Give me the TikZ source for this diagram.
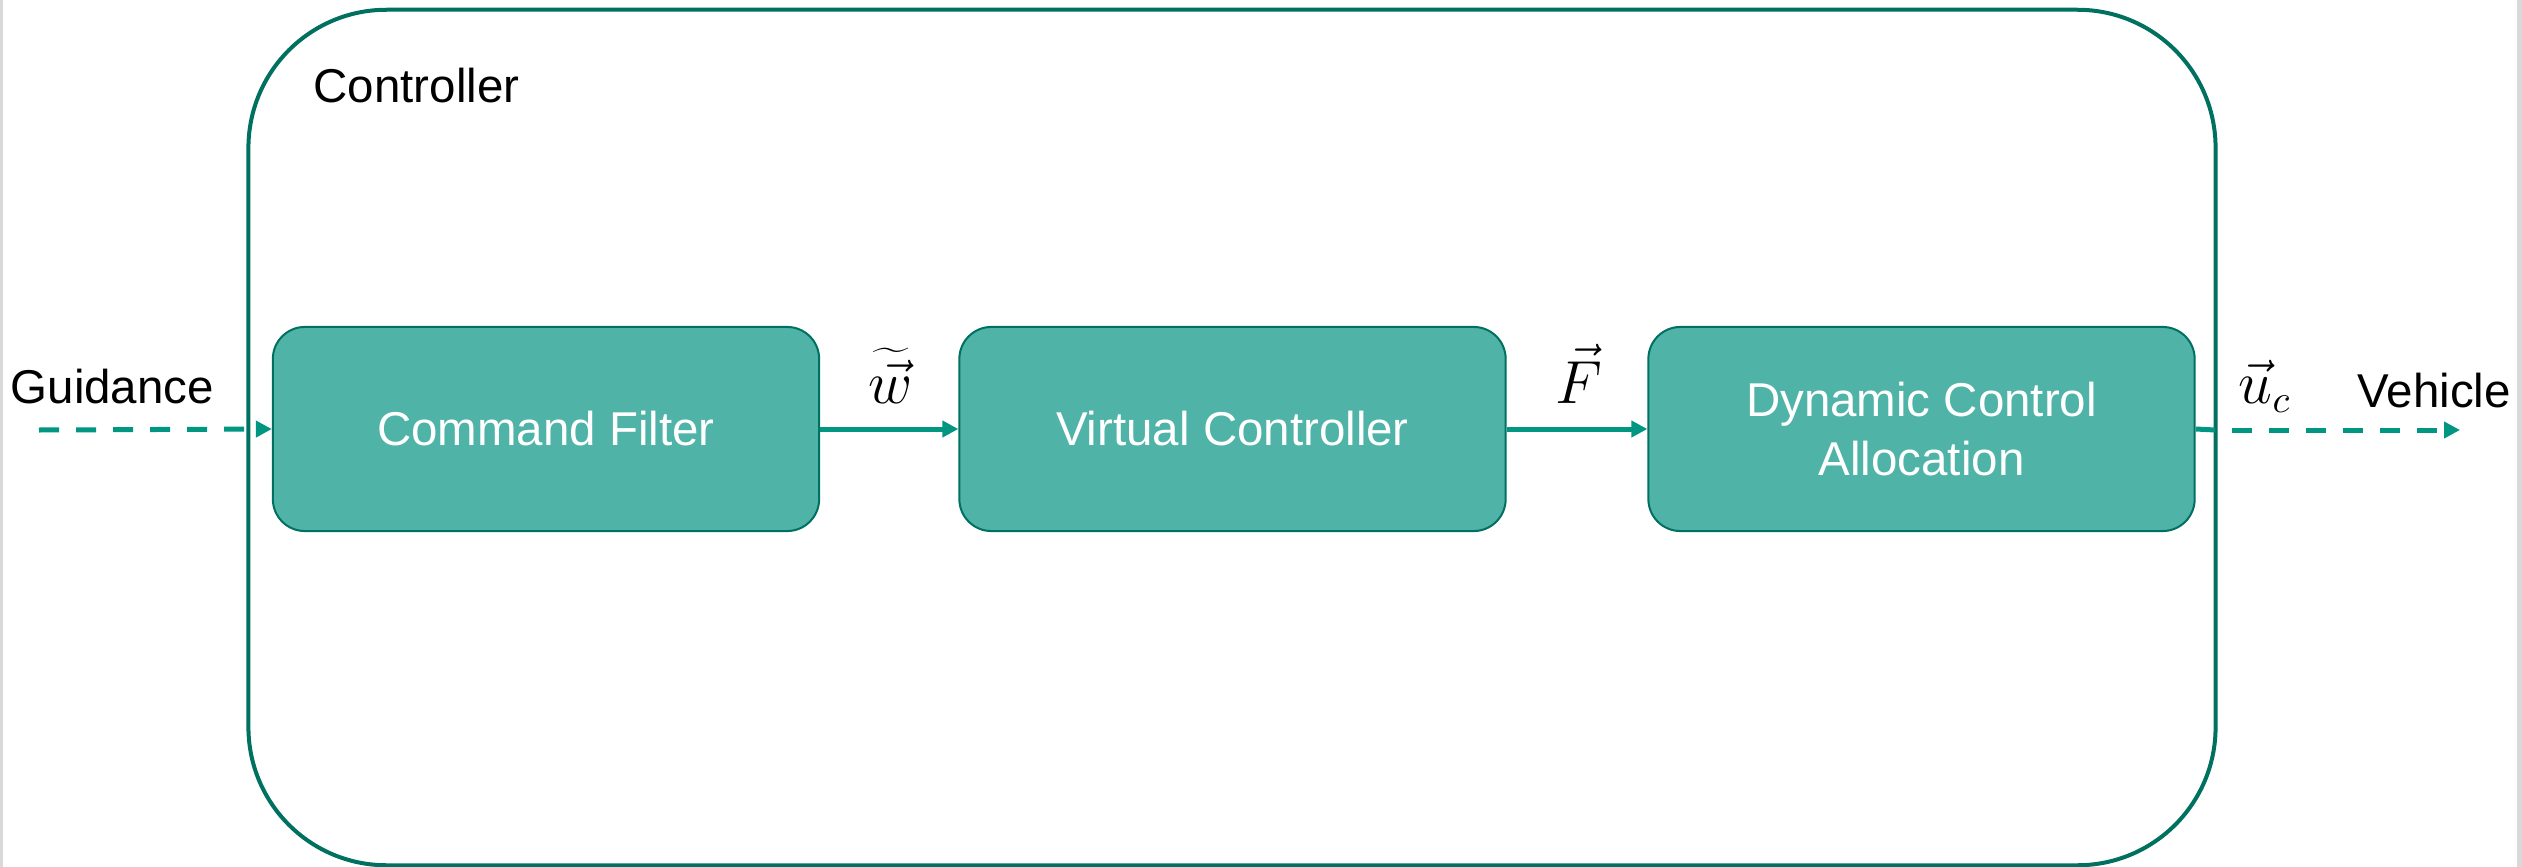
\documentclass[tikz,border=0pt]{standalone}
\usepackage{fontspec}
\setmainfont{Liberation Sans}
\usetikzlibrary{arrows.meta}
\definecolor{boxfill}{RGB}{79,179,167}
\definecolor{boxline}{RGB}{0,112,96}
\definecolor{arrowc}{RGB}{0,150,130}
\definecolor{edgegray}{RGB}{217,217,217}
\tikzset{
  blockbox/.style={draw=boxline, line width=0.02cm, fill=boxfill, rounded corners=0.32cm,
    minimum width=5.46cm, minimum height=2.04cm, text=white, align=center,
    font=\fontsize{13.5}{17}\selectfont, inner sep=0pt},
  outerbox/.style={draw=boxline, line width=0.04cm, rounded corners=1.38cm,
    minimum width=19.66cm, minimum height=8.55cm, inner sep=0pt},
  flow/.style={draw=arrowc, line width=0.05cm, -{Triangle[length=0.16cm,width=0.16cm]}},
  flowdash/.style={flow, dash pattern=on 0.2cm off 0.17cm},
  lbl/.style={font=\fontsize{13.5}{17}\selectfont, inner sep=0pt, text=black},
  mlbl/.style={font=\fontsize{16}{19}\selectfont, inner sep=0pt, text=black}
}
\begin{document}
\begin{tikzpicture}[x=0.01cm, y=-0.01cm]
\useasboundingbox (0,0) rectangle (2522,867);
\fill[edgegray] (0,0) rectangle (3,867);
\fill[edgegray] (2517,0) rectangle (2522,867);
\node[outerbox] (ctrl) at (1232,437.5) {};
\node[lbl, anchor=base west] (ctrltxt) at (313,103) {Controller};
\node[blockbox] (cf) at (546,429) {Command Filter};
\node[blockbox] (vc) at (1232.5,429) {Virtual Controller};
\node[blockbox] (dca) at (1921.5,429) {Dynamic Control\\Allocation};
\coordinate (gin) at (39,430);
\coordinate (oedge) at (2215,430);
\coordinate (ostart) at (2232,430);
\coordinate (oend) at (2460,430);
\node[lbl, anchor=base west] (guid) at (10,403) {Guidance};
\node[lbl, anchor=base west] (veh) at (2357,407) {Vehicle};
\draw[flowdash] (gin) -- (cf.west);
\draw[flow] (cf.east) -- (vc.west);
\draw[flow] (vc.east) -- (dca.west);
\draw[draw=arrowc, line width=0.05cm] (dca.east) -- (oedge);
\draw[flowdash] (ostart) -- (oend);
\node[mlbl, anchor=base] (wl) at (891,403) {$\widetilde{\vec{w}}$};
\node[mlbl, anchor=base] (fl) at (1579,403) {$\vec{F}$};
\node[mlbl, anchor=base west] (ul) at (2238,403) {$\vec{u}_c$};
\end{tikzpicture}
\end{document}
